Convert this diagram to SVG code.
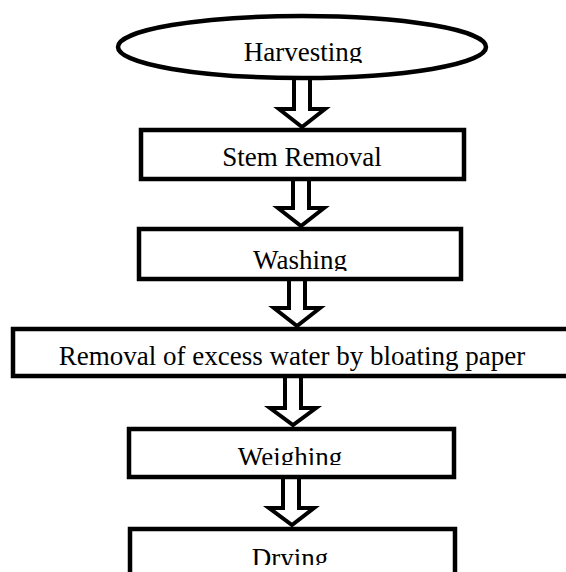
<svg xmlns="http://www.w3.org/2000/svg" width="566" height="572" viewBox="0 0 566 572">
<style>
.node{fill:#fff;stroke:#000;stroke-width:4.5}
.arrow{fill:#fff;stroke:#000;stroke-width:4;stroke-linejoin:miter}
.lbl{font-family:"Liberation Serif","Times New Roman",serif;font-size:27px;fill:#000;text-anchor:middle}
</style>
<defs>
<clipPath id="c1"><rect x="0" y="0" width="566" height="63"/></clipPath>
<clipPath id="c3"><rect x="0" y="230" width="566" height="41"/></clipPath>
<clipPath id="c5"><rect x="0" y="430" width="566" height="35"/></clipPath>
<clipPath id="c6"><rect x="0" y="530" width="566" height="35"/></clipPath>
</defs>
<rect width="566" height="572" fill="#fff"/>
<g id="connectors">
<path class="arrow" d="M294,70 V109 H279 L302,127 L325,109 H310 V70 Z"/>
<path class="arrow" d="M293,175 V208 H278 L301,226 L324,208 H309 V175 Z"/>
<path class="arrow" d="M289,275 V308 H274 L297,326 L320,308 H305 V275 Z"/>
<path class="arrow" d="M285,372 V408 H270 L293,425 L316,408 H301 V372 Z"/>
<path class="arrow" d="M283,473 V508 H269 L292,525 L314,508 H299 V473 Z"/>
</g>
<g id="harvesting">
<ellipse class="node" cx="302" cy="47" rx="184" ry="31"/>
<text class="lbl" x="303" y="61" clip-path="url(#c1)">Harvesting</text>
</g>
<g id="stem-removal">
<rect class="node" x="141" y="130" width="323" height="49"/>
<text class="lbl" x="302" y="166">Stem Removal</text>
</g>
<g id="washing">
<rect class="node" x="139" y="229" width="322" height="50"/>
<text class="lbl" x="300" y="269" clip-path="url(#c3)">Washing</text>
</g>
<g id="removal-water">
<rect class="node" x="13" y="329" width="570" height="47"/>
<text class="lbl" x="292" y="365">Removal of excess water by bloating paper</text>
</g>
<g id="weighing">
<rect class="node" x="129" y="429" width="325" height="48"/>
<text class="lbl" x="290" y="466" clip-path="url(#c5)">Weighing</text>
</g>
<g id="drying">
<path class="node" d="M130,580 V529 H455 V580"/>
<text class="lbl" x="290" y="567" clip-path="url(#c6)">Drying</text>
</g>
</svg>
